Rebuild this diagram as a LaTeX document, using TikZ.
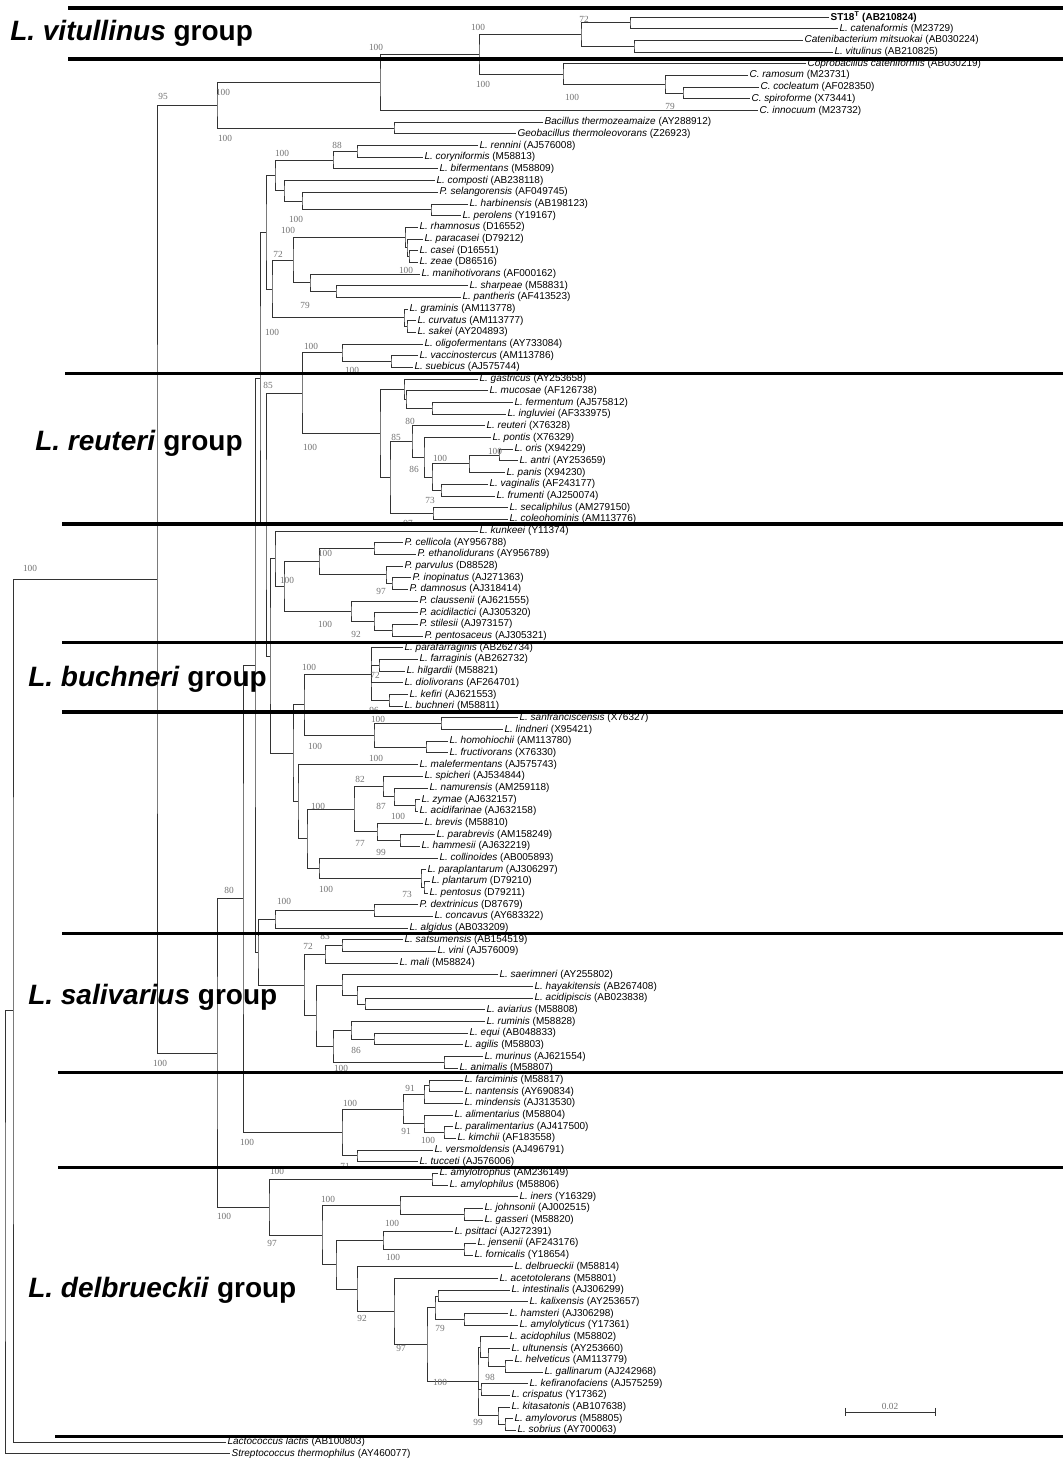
\documentclass[tikz,border=0pt]{standalone}
\usepackage{fontspec}
\setmainfont{Liberation Sans}
\newfontfamily\bootfont{Liberation Serif}
\usetikzlibrary{calc}
\tikzset{branch/.style={line width=0.55pt, black!80}}
\tikzset{leaf/.style={anchor=west, inner sep=1pt, font=\fontsize{7.5}{8}\selectfont}}
\tikzset{boot/.style={inner sep=0pt, black!55, font=\bootfont\fontsize{7}{8}\selectfont}}
\tikzset{divider/.style={line width=2.4pt}}
\tikzset{grouptitle/.style={anchor=west, inner sep=0pt, font=\fontsize{21}{24}\selectfont\bfseries}}
\newcommand\taxon[2]{\textit{#1} (#2)}
% inner node at x (px), halfway between its first and last child
\newcommand\joint[4]{%
  \path let \p1=($(#3)!.5!(#4)$) in (#2*0.75pt,\y1) coordinate (#1);
  \draw[branch] (#3) -| (#1) |- (#4);}

\begin{document}
\begin{tikzpicture}[x=0.75pt, y=-8.76pt]
\fill[white] (0,-0.4555) rectangle (1063,124.374);
\useasboundingbox (0,-0.4555) rectangle (1063,124.374);

% leaves, one per row
\foreach \tx/\lbl [count=\rw] in {
829/{\textbf{ST18\textsuperscript{T} (AB210824)}},
838/{\taxon{L. catenaformis}{M23729}},
803/{\taxon{Catenibacterium mitsuokai}{AB030224}},
833/{\taxon{L. vitulinus}{AB210825}},
806/{\taxon{Coprobacillus cateniformis}{AB030219}},
748/{\taxon{C. ramosum}{M23731}},
759/{\taxon{C. cocleatum}{AF028350}},
750/{\taxon{C. spiroforme}{X73441}},
758/{\taxon{C. innocuum}{M23732}},
543/{\taxon{Bacillus thermozeamaize}{AY288912}},
516/{\taxon{Geobacillus thermoleovorans}{Z26923}},
478/{\taxon{L. rennini}{AJ576008}},
423/{\taxon{L. coryniformis}{M58813}},
438/{\taxon{L. bifermentans}{M58809}},
435/{\taxon{L. composti}{AB238118}},
438/{\taxon{P. selangorensis}{AF049745}},
468/{\taxon{L. harbinensis}{AB198123}},
461/{\taxon{L. perolens}{Y19167}},
418/{\taxon{L. rhamnosus}{D16552}},
423/{\taxon{L. paracasei}{D79212}},
418/{\taxon{L. casei}{D16551}},
418/{\taxon{L. zeae}{D86516}},
420/{\taxon{L. manihotivorans}{AF000162}},
468/{\taxon{L. sharpeae}{M58831}},
461/{\taxon{L. pantheris}{AF413523}},
408/{\taxon{L. graminis}{AM113778}},
416/{\taxon{L. curvatus}{AM113777}},
416/{\taxon{L. sakei}{AY204893}},
423/{\taxon{L. oligofermentans}{AY733084}},
418/{\taxon{L. vaccinostercus}{AM113786}},
413/{\taxon{L. suebicus}{AJ575744}},
478/{\taxon{L. gastricus}{AY253658}},
488/{\taxon{L. mucosae}{AF126738}},
513/{\taxon{L. fermentum}{AJ575812}},
506/{\taxon{L. ingluviei}{AF333975}},
485/{\taxon{L. reuteri}{X76328}},
491/{\taxon{L. pontis}{X76329}},
513/{\taxon{L. oris}{X94229}},
518/{\taxon{L. antri}{AY253659}},
505/{\taxon{L. panis}{X94230}},
488/{\taxon{L. vaginalis}{AF243177}},
495/{\taxon{L. frumenti}{AJ250074}},
508/{\taxon{L. secaliphilus}{AM279150}},
508/{\taxon{L. coleohominis}{AM113776}},
478/{\taxon{L. kunkeei}{Y11374}},
403/{\taxon{P. cellicola}{AY956788}},
416/{\taxon{P. ethanolidurans}{AY956789}},
403/{\taxon{P. parvulus}{D88528}},
411/{\taxon{P. inopinatus}{AJ271363}},
408/{\taxon{P. damnosus}{AJ318414}},
418/{\taxon{P. claussenii}{AJ621555}},
418/{\taxon{P. acidilactici}{AJ305320}},
418/{\taxon{P. stilesii}{AJ973157}},
423/{\taxon{P. pentosaceus}{AJ305321}},
403/{\taxon{L. parafarraginis}{AB262734}},
418/{\taxon{L. farraginis}{AB262732}},
405/{\taxon{L. hilgardii}{M58821}},
403/{\taxon{L. diolivorans}{AF264701}},
408/{\taxon{L. kefiri}{AJ621553}},
403/{\taxon{L. buchneri}{M58811}},
518/{\taxon{L. sanfranciscensis}{X76327}},
503/{\taxon{L. lindneri}{X95421}},
448/{\taxon{L. homohiochii}{AM113780}},
448/{\taxon{L. fructivorans}{X76330}},
418/{\taxon{L. malefermentans}{AJ575743}},
423/{\taxon{L. spicheri}{AJ534844}},
428/{\taxon{L. namurensis}{AM259118}},
420/{\taxon{L. zymae}{AJ632157}},
418/{\taxon{L. acidifarinae}{AJ632158}},
423/{\taxon{L. brevis}{M58810}},
435/{\taxon{L. parabrevis}{AM158249}},
420/{\taxon{L. hammesii}{AJ632219}},
438/{\taxon{L. collinoides}{AB005893}},
426/{\taxon{L. paraplantarum}{AJ306297}},
430/{\taxon{L. plantarum}{D79210}},
428/{\taxon{L. pentosus}{D79211}},
418/{\taxon{P. dextrinicus}{D87679}},
433/{\taxon{L. concavus}{AY683322}},
408/{\taxon{L. algidus}{AB033209}},
403/{\taxon{L. satsumensis}{AB154519}},
436/{\taxon{L. vini}{AJ576009}},
398/{\taxon{L. mali}{M58824}},
498/{\taxon{L. saerimneri}{AY255802}},
533/{\taxon{L. hayakitensis}{AB267408}},
533/{\taxon{L. acidipiscis}{AB023838}},
485/{\taxon{L. aviarius}{M58808}},
485/{\taxon{L. ruminis}{M58828}},
468/{\taxon{L. equi}{AB048833}},
463/{\taxon{L. agilis}{M58803}},
483/{\taxon{L. murinus}{AJ621554}},
458/{\taxon{L. animalis}{M58807}},
463/{\taxon{L. farciminis}{M58817}},
463/{\taxon{L. nantensis}{AY690834}},
463/{\taxon{L. mindensis}{AJ313530}},
453/{\taxon{L. alimentarius}{M58804}},
453/{\taxon{L. paralimentarius}{AJ417500}},
456/{\taxon{L. kimchii}{AF183558}},
433/{\taxon{L. versmoldensis}{AJ496791}},
418/{\taxon{L. tucceti}{AJ576006}},
438/{\taxon{L. amylotrophus}{AM236149}},
448/{\taxon{L. amylophilus}{M58806}},
518/{\taxon{L. iners}{Y16329}},
483/{\taxon{L. johnsonii}{AJ002515}},
483/{\taxon{L. gasseri}{M58820}},
453/{\taxon{L. psittaci}{AJ272391}},
476/{\taxon{L. jensenii}{AF243176}},
473/{\taxon{L. fornicalis}{Y18654}},
513/{\taxon{L. delbrueckii}{M58814}},
498/{\taxon{L. acetotolerans}{M58801}},
510/{\taxon{L. intestinalis}{AJ306299}},
528/{\taxon{L. kalixensis}{AY253657}},
508/{\taxon{L. hamsteri}{AJ306298}},
518/{\taxon{L. amylolyticus}{Y17361}},
508/{\taxon{L. acidophilus}{M58802}},
510/{\taxon{L. ultunensis}{AY253660}},
513/{\taxon{L. helveticus}{AM113779}},
543/{\taxon{L. gallinarum}{AJ242968}},
528/{\taxon{L. kefiranofaciens}{AJ575259}},
510/{\taxon{L. crispatus}{Y17362}},
510/{\taxon{L. kitasatonis}{AB107638}},
513/{\taxon{L. amylovorus}{M58805}},
516/{\taxon{L. sobrius}{AY700063}},
226/{\taxon{Lactococcus lactis}{AB100803}},
230/{\taxon{Streptococcus thermophilus}{AY460077}}}
  \node[leaf] (l\rw) at (\tx,\rw) {\lbl};

% vitulinus, Clostridium and Bacillus
\joint{jst}{630}{l1}{l2}
\joint{jcv}{634}{l3}{l4}
\joint{j72}{581}{jst}{jcv}
\joint{jcsp}{683}{l7}{l8}
\joint{jram}{665}{l6}{jcsp}
\joint{jcop}{563}{l5}{jram}
\joint{jvit}{479}{j72}{jcop}
\joint{jclo}{380}{jvit}{l9}
\joint{jbac}{394}{l10}{l11}
\joint{jout}{217}{jclo}{jbac}

% casei, sakei and relatives
\joint{jren}{357}{l12}{l13}
\joint{jcor}{333}{jren}{l14}
\joint{jhar}{431}{l17}{l18}
\joint{jsel}{302}{l16}{jhar}
\joint{jcom}{284}{l15}{jsel}
\joint{jcb}{275}{jcor}{jcom}
\joint{jcz}{409}{l21}{l22}
\joint{jpar}{407}{l20}{jcz}
\joint{jcas}{405}{l19}{jpar}
\joint{jsha}{336}{l24}{l25}
\joint{jman}{310}{l23}{jsha}
\joint{jcm}{293}{jcas}{jman}
\joint{jcur}{407}{l27}{l28}
\joint{jsak}{404}{l26}{jcur}
\joint{jcs}{272}{jcm}{jsak}
\joint{jcsg}{266}{jcb}{jcs}

% reuteri
\joint{jsue}{391}{l30}{l31}
\joint{joli}{342}{l29}{jsue}
\joint{jfer}{432}{l34}{l35}
\joint{jmuc}{406}{l33}{jfer}
\joint{jgas}{404}{l32}{jmuc}
\joint{jant}{499}{l38}{l39}
\joint{jpan}{469}{jant}{l40}
\joint{jvag}{441}{l41}{l42}
\joint{jpv}{432}{jpan}{jvag}
\joint{jpon}{424}{l37}{jpv}
\joint{jreu}{412}{l36}{jpon}
\joint{jsec}{433}{l43}{l44}
\joint{jrs}{390}{jreu}{jsec}
\joint{jrg}{380}{jgas}{jrs}
\joint{jor}{302}{joli}{jrg}

% kunkeei and Pediococcus
\joint{jcel}{374}{l46}{l47}
\joint{jino}{392}{l49}{l50}
\joint{jpvu}{386}{l48}{jino}
\joint{jped}{319}{jcel}{jpvu}
\joint{jsti}{392}{l53}{l54}
\joint{jaci}{374}{l52}{jsti}
\joint{jcla}{351}{l51}{jaci}
\joint{jpd}{284}{jped}{jcla}
\joint{jkun}{275}{l45}{jpd}

% buchneri, brevis, plantarum
\joint{jfar}{379}{l56}{l57}
\joint{jkef}{389}{l59}{l60}
\joint{jbuc}{371}{l55}{jkef}
\draw[branch] (jbuc) |- (jfar);
\draw[branch] (jbuc) |- (l58);
\joint{jlin}{441}{l61}{l62}
\joint{jfru}{426}{l63}{l64}
\joint{jsan}{374}{jlin}{jfru}
\joint{jbs}{304}{jbuc}{jsan}
\joint{jzym}{415}{l68}{l69}
\joint{jnam}{394}{l67}{jzym}
\joint{jspi}{383}{l66}{jnam}
\joint{jham}{400}{l71}{l72}
\joint{jbre}{377}{l70}{jham}
\joint{jsb}{354}{jspi}{jbre}
\joint{jpen}{424}{l75}{l76}
\joint{jpla}{421}{l74}{jpen}
\joint{jcol}{319}{l73}{jpla}
\joint{jbc}{307}{jsb}{jcol}
\joint{jmal}{298}{l65}{jbc}
\joint{jbm}{293}{jbs}{jmal}
\joint{jkb}{270}{jkun}{jbm}
\joint{jrk}{266}{jor}{jkb}
\joint{jlac1}{260}{jcsg}{jrk}

% salivarius
\joint{jdex}{374}{l77}{l78}
\joint{jalg}{275}{jdex}{l79}
\joint{jsat}{342}{l80}{l81}
\joint{jmali}{325}{jsat}{l82}
\joint{jaa}{365}{l85}{l86}
\joint{jhay}{357}{l84}{jaa}
\joint{jsae}{342}{l83}{jhay}
\joint{jequ}{374}{l88}{l89}
\joint{jrum}{351}{l87}{jequ}
\joint{jmur}{444}{l90}{l91}
\joint{jrm}{333}{jrum}{jmur}
\joint{jsr}{316}{jsae}{jrm}
\joint{jsal}{304}{jmali}{jsr}
\joint{jas}{258}{jalg}{jsal}
\joint{jlac}{255}{jlac1}{jas}

% alimentarius
\joint{jfn}{429}{l92}{l93}
\joint{jmin}{424}{jfn}{l94}
\joint{jkim}{444}{l96}{l97}
\joint{jali}{424}{l95}{jkim}
\joint{jfa}{403}{jmin}{jali}
\joint{jver}{357}{l98}{l99}
\joint{jalm}{342}{jfa}{jver}
\joint{jlb}{243}{jlac}{jalm}

% delbrueckii
\joint{jamy}{432}{l100}{l101}
\joint{jjg}{464}{l103}{l104}
\joint{jine}{400}{l102}{jjg}
\joint{jjf}{464}{l106}{l107}
\joint{jpsi}{383}{l105}{jjf}
\joint{jik}{438}{l110}{l111}
\joint{jhm}{464}{l112}{l113}
\joint{jint}{435}{jik}{jhm}
\joint{jhg}{505}{l116}{l117}
\joint{jult}{488}{l115}{jhg}
\joint{jaci2}{480}{l114}{jult}
\joint{jkc}{481}{l118}{l119}
\joint{jams}{505}{l121}{l122}
\joint{jkit}{498}{l120}{jams}
\joint{jacg}{478}{jaci2}{jkit}
\draw[branch] (jacg) |- (jkc);
\joint{jia}{427}{jint}{jacg}
\joint{jace}{394}{l109}{jia}
\joint{jdel}{357}{l108}{jace}
\joint{jpd2}{336}{jpsi}{jdel}
\joint{jid}{322}{jine}{jpd2}
\joint{jdg}{269}{jamy}{jid}

% backbone and outgroup
\joint{jlab}{217}{jlb}{jdg}
\joint{jin}{157}{jout}{jlab}
\joint{jlc}{13}{jin}{l123}
\joint{jroot}{5}{jlc}{l124}

% bootstrap values
\foreach \bx/\by/\bv [count=\bn] in {584/1.2/72, 478/1.9/100, 376/3.6/100,
  483/6.8/100, 572/7.85/100, 670/8.62/79, 223/7.5/100, 163/7.76/95,
  225/11.36/100, 337/11.96/88, 282/12.64/100, 296/18.29/100, 288/19.3/100,
  278/21.3/72, 406/22.66/100, 305/25.66/79, 272/27.97/100, 311/29.17/100,
  352/31.22/100, 268/32.51/85, 410/35.59/80, 396/36.96/85, 310/37.81/100,
  440/38.76/100, 495/38.16/100, 414/39.7/86, 430/42.35/73, 408/44.32/97,
  325/46.89/100, 287/49.2/100, 381/50.14/97, 325/52.97/100, 356/53.83/92,
  309/56.65/100, 375/57.33/72, 374/60.33/96, 378/61.1/100, 315/63.41/100,
  376/64.44/100, 360/66.24/82, 381/68.55/87, 398/69.41/100, 318/68.6/100,
  360/71.72/77, 381/72.57/99, 326/75.66/100, 407/76.09/73, 229/75.74/80,
  284/76.68/100, 325/79.68/83, 308/80.54/72, 356/89.44/86, 160/90.55/100,
  341/90.98/100, 410/92.7/91, 350/93.98/100, 406/96.38/91, 428/97.15/100,
  345/99.37/71, 247/97.32/100, 277/99.8/100, 224/103.65/100, 328/102.2/100,
  392/104.26/100, 272/105.97/97, 393/107.17/100, 362/112.39/92,
  440/113.24/79, 401/114.96/97, 490/117.44/98, 440/117.87/100,
  478/121.29/99, 30/48.18/100}
  \node[boot] (b\bn) at (\bx,\by) {\bv};

% scale bar
\coordinate (sbl) at (845,120.43);
\coordinate (sbr) at (935,120.43);
\draw[branch] (sbl) -- (sbr);
\draw[branch] ([yshift=3pt]sbl) -- ([yshift=-3pt]sbl);
\draw[branch] ([yshift=3pt]sbr) -- ([yshift=-3pt]sbr);
\node[boot, above=1.5pt] (sbv) at ($(sbl)!.5!(sbr)$) {0.02};

% group dividers
\foreach \lx/\ly in {68/0.23, 68/4.6, 65/31.5, 62/44.4, 62/54.55, 62/60.5,
  62/79.45, 58/91.4, 58/99.5, 55/122.5}
  \draw[divider] (\lx,\ly) -- (1063,\ly);

% group titles
\node[grouptitle] (gvit) at (10,2.37) {\textit{L. vitullinus} group};
\node[grouptitle] (greu) at (35,37.47) {\textit{L. reuteri} group};
\node[grouptitle] (gbuc) at (28,57.68) {\textit{L. buchneri} group};
\node[grouptitle] (gsal) at (28,84.9) {\textit{L. salivarius} group};
\node[grouptitle] (gdel) at (28,110) {\textit{L. delbrueckii} group};
\end{tikzpicture}
\end{document}
